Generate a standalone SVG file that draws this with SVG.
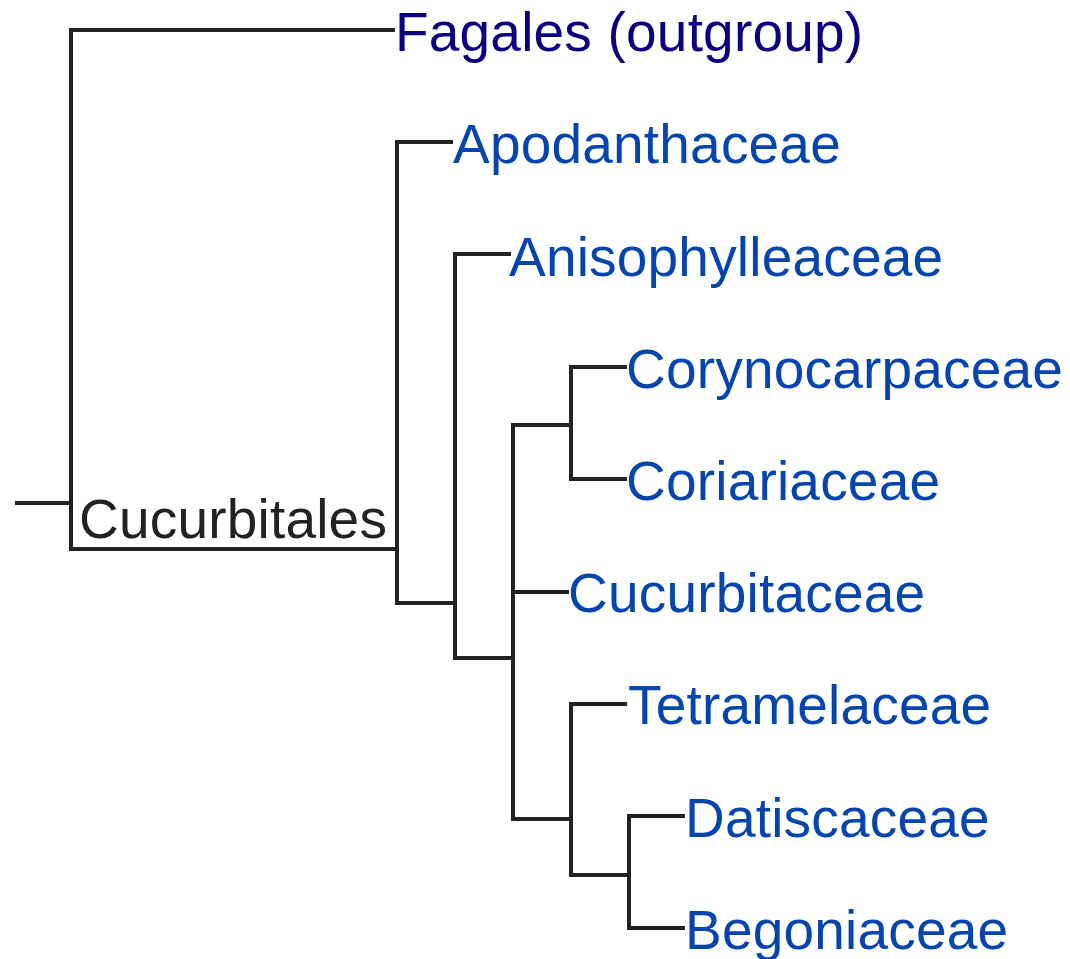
<svg xmlns="http://www.w3.org/2000/svg" width="1070" height="959" viewBox="0 0 1070 959">
<style>
.e{fill:none;stroke:#222;stroke-width:4;stroke-linejoin:miter}
text{font-family:"Liberation Sans",Arial,sans-serif;font-size:55px;letter-spacing:0.2px}
.l{fill:#0645ad}
.v{fill:#0b0080}
.k{fill:#222}
</style>
<rect width="1070" height="959" fill="#fff"/>
<g id="connectors">
<path class="e" d="M15,503 H71"/>
<path class="e" d="M395,30 H71 V549 H397"/>
<path class="e" d="M453,142 H397 V603 H455"/>
<path class="e" d="M511,254 H455 V658 H513"/>
<path class="e" d="M571,425 H513 V819 H571"/>
<path class="e" d="M513,592 H569"/>
<path class="e" d="M627,367 H571 V479 H627"/>
<path class="e" d="M627,704 H571 V875 H629"/>
<path class="e" d="M685,816 H629 V928 H685"/>
</g>
<g id="cucurbitales"><text class="k" x="79" y="538">Cucurbitales</text></g>
<g id="fagales"><text class="v" x="395" y="51">Fagales (outgroup)</text></g>
<g id="apodanthaceae"><text class="l" x="453" y="163">Apodanthaceae</text></g>
<g id="anisophylleaceae"><text class="l" x="509" y="276">Anisophylleaceae</text></g>
<g id="corynocarpaceae"><text class="l" x="626" y="388">Corynocarpaceae</text></g>
<g id="coriariaceae"><text class="l" x="626" y="500">Coriariaceae</text></g>
<g id="cucurbitaceae"><text class="l" x="568" y="612">Cucurbitaceae</text></g>
<g id="tetramelaceae"><text class="l" x="628" y="724">Tetramelaceae</text></g>
<g id="datiscaceae"><text class="l" x="685" y="837">Datiscaceae</text></g>
<g id="begoniaceae"><text class="l" x="685" y="949">Begoniaceae</text></g>
</svg>
